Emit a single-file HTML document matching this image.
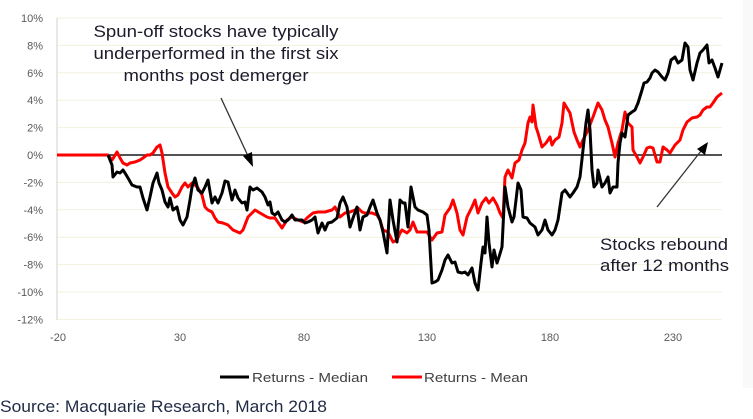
<!DOCTYPE html>
<html><head><meta charset="utf-8"><style>
html,body{margin:0;padding:0;background:#fff;}
svg{display:block;}
text{font-family:"Liberation Sans",Arial,sans-serif;}
</style></head><body>
<svg width="753" height="419" viewBox="0 0 753 419" xmlns="http://www.w3.org/2000/svg">
<rect x="0" y="0" width="753" height="419" fill="#fff"/>
<rect x="743" y="0" width="10" height="388" fill="#f9f9f9"/>
<!-- gridlines -->
<g stroke="#f3f0dd" stroke-width="1">
<line x1="57" y1="18" x2="722" y2="18"/>
<line x1="57" y1="45.4" x2="722" y2="45.4"/>
<line x1="57" y1="72.8" x2="722" y2="72.8"/>
<line x1="57" y1="100.2" x2="722" y2="100.2"/>
<line x1="57" y1="127.6" x2="722" y2="127.6"/>
<line x1="57" y1="182.4" x2="722" y2="182.4"/>
<line x1="57" y1="209.8" x2="722" y2="209.8"/>
<line x1="57" y1="237.2" x2="722" y2="237.2"/>
<line x1="57" y1="264.6" x2="722" y2="264.6"/>
<line x1="57" y1="292" x2="722" y2="292"/>
<line x1="57" y1="319.4" x2="722" y2="319.4"/>
</g>
<line x1="57" y1="18" x2="57" y2="320" stroke="#d9d9d9" stroke-width="1.2"/>
<line x1="57" y1="155" x2="722" y2="155" stroke="#1a1a1a" stroke-width="1.6"/>
<!-- y labels -->
<g font-size="11" fill="#595959" text-anchor="end">
<text x="43" y="22">10%</text>
<text x="43" y="49.4">8%</text>
<text x="43" y="76.8">6%</text>
<text x="43" y="104.2">4%</text>
<text x="43" y="131.6">2%</text>
<text x="43" y="159">0%</text>
<text x="43" y="186.4">-2%</text>
<text x="43" y="213.8">-4%</text>
<text x="43" y="241.2">-6%</text>
<text x="43" y="268.6">-8%</text>
<text x="43" y="296">-10%</text>
<text x="43" y="323.4">-12%</text>
</g>
<!-- x labels -->
<g font-size="11" fill="#595959" text-anchor="middle">
<text x="58" y="341">-20</text>
<text x="180" y="341">30</text>
<text x="304" y="341">80</text>
<text x="427" y="341">130</text>
<text x="550" y="341">180</text>
<text x="673" y="341">230</text>
</g>
<!-- series -->
<polyline fill="none" stroke="#ff0000" stroke-width="3" stroke-linejoin="round" points="57,155 108,155 112,160 114,157 117,152 120,158 123,163 127,165 130,163 135,162 140,160 143,158 147,155 150,155 153,153 157,147 160,145 162,153 165,173 168,187 172,193 175,197 178,195 182,187 185,183 188,187 192,183 195,185 198,188 202,195 205,207 208,210 212,212 215,218 218,222 223,223 228,225 233,230 240,233 243,230 248,217 255,210 260,213 267,217 270,218 275,218 282,228 287,220 292,217 298,220 303,222 308,217 313,213 318,212 325,212 332,210 335,207 340,217 345,213 350,212 355,210 358,208 362,212 365,213 372,213 377,215 380,220 383,230 388,232 393,242 397,240 400,233 402,230 407,233 410,230 413,222 417,232 422,232 427,232 432,240 437,233 442,232 445,215 450,208 453,200 457,213 460,230 463,235 467,217 472,207 475,200 478,213 482,203 486,198 489,203 493,198 497,205 500,213 503,218 505,177 508,170 512,178 515,163 519,160 522,150 525,143 528,123 530,117 532,122 533,105 536,127 538,133 542,147 546,143 550,137 552,145 555,140 559,137 562,123 564,103 567,108 570,113 574,132 577,140 580,147 583,140 588,130 593,117 598,103 602,110 605,120 608,127 612,143 615,157 618,143 622,130 625,112 628,123 632,127 633,150 637,157 640,163 643,157 647,148 650,147 653,148 657,162 660,162 663,147 667,150 670,153 675,145 680,140 683,130 687,122 692,118 697,117 700,115 703,110 707,107 710,107 713,103 717,97 722,93"/>
<polyline fill="none" stroke="#000" stroke-width="3" stroke-linejoin="round" points="108,155 112,165 113,177 117,172 120,173 123,170 125,173 128,178 132,185 137,187 140,187 143,198 147,210 150,197 153,183 157,173 159,183 162,190 165,202 168,207 170,198 173,210 177,207 180,220 183,225 187,217 190,200 192,187 195,178 198,190 202,193 205,187 208,180 212,203 215,197 218,203 222,193 225,181 228,182 232,200 235,190 238,198 242,203 245,202 247,210 250,187 253,190 257,188 262,192 265,197 268,205 270,202 272,213 275,215 278,212 282,220 285,222 288,220 292,215 295,220 298,220 302,220 305,223 308,222 312,220 315,217 318,233 322,223 325,230 328,223 332,222 337,218 340,203 343,197 347,207 350,227 353,218 357,207 360,230 363,217 367,215 370,207 373,200 377,213 380,220 383,232 387,253 390,200 393,220 397,242 400,200 403,203 405,203 408,227 411,187 415,207 418,210 423,212 427,215 429,230 432,283 435,282 438,280 442,270 445,260 448,255 452,263 455,262 458,272 462,273 465,272 468,275 472,268 475,283 478,290 481,263 483,247 485,253 487,217 489,243 492,267 494,250 497,263 499,257 502,247 505,187 508,207 512,222 514,217 518,183 521,190 523,217 527,218 530,223 535,227 538,235 542,230 545,220 548,230 552,235 555,230 558,220 562,193 565,190 570,197 573,193 577,187 580,177 583,150 586,123 588,110 590,130 592,170 594,187 597,183 598,170 602,187 605,183 608,177 610,193 613,187 617,187 618,163 620,143 622,133 625,137 627,123 628,115 632,112 635,110 638,103 642,90 644,83 647,82 650,78 652,73 655,70 658,72 662,77 665,80 668,73 671,60 675,57 678,63 682,60 685,43 688,47 690,70 693,80 697,63 700,53 703,50 707,45 709,63 712,60 715,68 718,77 722,63"/>
<!-- annotations -->
<g font-size="17" fill="#1b1b2b" text-anchor="middle">
<text x="216" y="37" textLength="245" lengthAdjust="spacingAndGlyphs">Spun-off stocks have typically</text>
<text x="216" y="59" textLength="245" lengthAdjust="spacingAndGlyphs">underperformed in the first six</text>
<text x="216" y="81" textLength="185" lengthAdjust="spacingAndGlyphs">months post demerger</text>
</g>
<g font-size="17" fill="#1b1b2b">
<text x="600" y="250" textLength="128" lengthAdjust="spacingAndGlyphs">Stocks rebound</text>
<text x="600" y="271" textLength="129" lengthAdjust="spacingAndGlyphs">after 12 months</text>
</g>
<!-- arrows -->
<line x1="221" y1="98" x2="248" y2="156" stroke="#333" stroke-width="1.3"/>
<polygon points="253,167 243,156 252,152" fill="#000"/>
<line x1="657" y1="207" x2="701" y2="151" stroke="#333" stroke-width="1.3"/>
<polygon points="708,142 705,155 697,149" fill="#000"/>
<!-- legend -->
<line x1="220" y1="377" x2="249" y2="377" stroke="#000" stroke-width="3"/>
<text x="252" y="382" font-size="13" fill="#404040" textLength="116" lengthAdjust="spacingAndGlyphs">Returns - Median</text>
<line x1="392" y1="377" x2="422" y2="377" stroke="#ff0000" stroke-width="3"/>
<text x="424" y="382" font-size="13" fill="#404040" textLength="104" lengthAdjust="spacingAndGlyphs">Returns - Mean</text>
<!-- source -->
<text x="0" y="412" font-size="17" fill="#1f2a44" textLength="327" lengthAdjust="spacingAndGlyphs">Source: Macquarie Research, March 2018</text>
</svg>
</body></html>
